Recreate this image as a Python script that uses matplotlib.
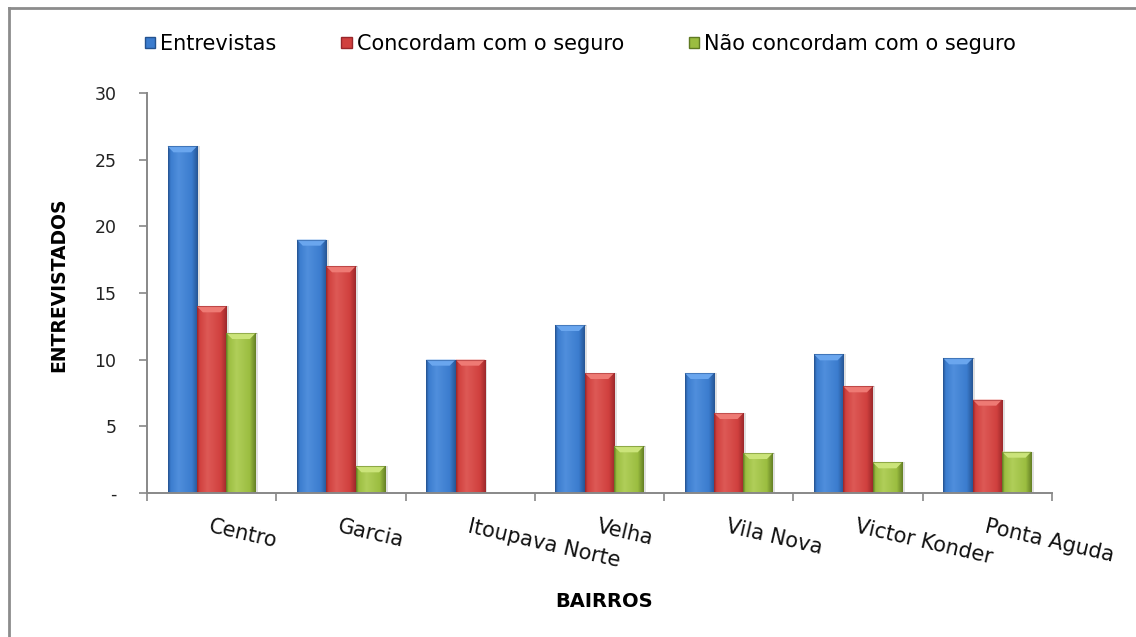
import numpy as np
import matplotlib
matplotlib.use("Agg")
import matplotlib.pyplot as plt
from matplotlib.patches import Polygon, Rectangle
from matplotlib.lines import Line2D
from matplotlib.colors import LinearSegmentedColormap

# dados da pesquisa por bairro
bairros = ["Centro", "Garcia", "Itoupava Norte", "Velha", "Vila Nova",
           "Victor Konder", "Ponta Aguda"]
entrevistas = [26, 19, 10, 12.6, 9, 10.4, 10.1]
concordam = [14, 17, 10, 9, 6, 8, 7]
nao_concordam = [12, 2, 0, 3.5, 3, 2.3, 3.1]

series = ["Entrevistas", "Concordam com o seguro", "Não concordam com o seguro"]
yticks = [0, 5, 10, 15, 20, 25, 30]
ytick_labels = ["-", "5", "10", "15", "20", "25", "30"]

# cores (escura, base, clara) de cada série
paleta = [
    ("#24528f", "#3b7cce", "#6aa6ee"),
    ("#98262a", "#d0403e", "#ee7a74"),
    ("#5f7a22", "#9bbd40", "#cbe47a"),
]

plt.rcParams["font.family"] = ["DejaVu Sans"]

fig = plt.figure(figsize=(11.36, 6.37), dpi=100)
ax = fig.add_axes([147 / 1136, 1 - 493 / 637, 905 / 1136, 400 / 637])

x = np.arange(len(bairros))
largura = 0.227
perfil = np.interp(np.linspace(0, 1, 60), [0, 0.08, 0.35, 0.8, 1],
                   [0.0, 0.5, 0.72, 0.5, 0.05])[None, :]
bevel = 0.45

for k, valores in enumerate([entrevistas, concordam, nao_concordam]):
    escura, base, clara = paleta[k]
    cmap = LinearSegmentedColormap.from_list(f"c{k}", [escura, base, clara])
    barras = ax.bar(x + (k - 1) * largura, valores, largura, color=base,
                    edgecolor="none", zorder=2, label=series[k])
    for b in barras:
        h = b.get_height()
        if h <= 0:
            continue
        x0 = b.get_x()
        x1 = x0 + b.get_width()
        # sombra leve à direita
        ax.add_patch(Rectangle((x0 + 0.02, 0), x1 - x0, h, color="#000000",
                               alpha=0.12, zorder=1.5, lw=0))
        im = ax.imshow(perfil, extent=[x0, x1, 0, h], cmap=cmap, vmin=0,
                       vmax=1, aspect="auto", zorder=2.1, interpolation="bilinear")
        im.set_clip_path(b)
        # chanfro claro no topo
        ins = (x1 - x0) * 0.2
        ax.add_patch(Polygon([(x0, h), (x1, h), (x1 - ins, h - bevel),
                              (x0 + ins, h - bevel)], closed=True,
                             color=clara, lw=0, zorder=2.2))
        ax.plot([x0, x1], [h, h], color=escura, lw=0.8, alpha=0.5, zorder=2.3)

ax.set_xlim(-0.5, len(bairros) - 0.5)
ax.set_ylim(0, 30)

ax.set_yticks(yticks)
ax.set_yticklabels(ytick_labels, fontsize=12.5, color="#222222")
ax.set_xticks(np.arange(len(bairros) + 1) - 0.5)
ax.set_xticklabels([])
ax.tick_params(axis="y", length=6, width=1.2, color="#888888", pad=16)
ax.tick_params(axis="x", length=6, width=1.2, color="#888888")

for lado in ["top", "right"]:
    ax.spines[lado].set_visible(False)
for lado in ["left", "bottom"]:
    ax.spines[lado].set_color("#888888")
    ax.spines[lado].set_linewidth(1.4)

for i, nome in enumerate(bairros):
    ax.annotate(nome, xy=(x[i], 0), xycoords="data", xytext=(0, -17),
                textcoords="offset points", rotation=-13,
                rotation_mode="anchor", ha="left", va="top", fontsize=15,
                color="#111111")

ax.set_ylabel("ENTREVISTADOS", fontsize=13.5, fontweight="bold")
ax.yaxis.set_label_coords(-0.087, 0.52)
ax.set_xlabel("BAIRROS", fontsize=14, fontweight="bold")
ax.xaxis.set_label_coords(0.505, -0.2475)

handles = [Rectangle((0, 0), 1, 1, color=p[1], ec=p[0]) for p in paleta]
fig.legend(handles, series, loc="center", bbox_to_anchor=(0.511, 0.931),
           ncol=3, frameon=False, fontsize=15, handlelength=0.5,
           handleheight=0.5, handletextpad=0.25, columnspacing=3.1)

# moldura da área do gráfico
fig.add_artist(Line2D([9 / 1136, 9 / 1136], [0, 1 - 8 / 637],
                      color="#8c8c8c", lw=2))
fig.add_artist(Line2D([9 / 1136, 1], [1 - 8 / 637, 1 - 8 / 637],
                      color="#8c8c8c", lw=2))

fig.savefig("out.png", dpi=100, facecolor="white")
